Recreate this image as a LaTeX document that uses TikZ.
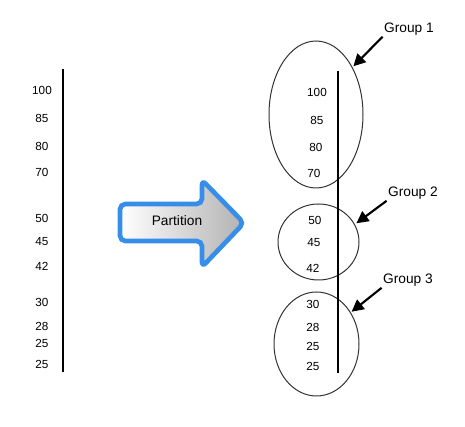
\documentclass[tikz,border=0pt]{standalone}
\usepackage{fontspec}
\setmainfont{Liberation Sans}
\usetikzlibrary{arrows.meta,shapes.geometric}
\definecolor{partblue}{RGB}{55,142,232}
\definecolor{partgray}{RGB}{178,178,178}

\tikzset{
  num/.style={font=\fontsize{8.8}{10}\selectfont, inner sep=1pt},
  grplab/.style={font=\fontsize{10.3}{12}\selectfont, inner sep=1pt},
  grpell/.style={draw=black!80, line width=0.75pt, ellipse, inner sep=0pt, outer sep=0pt},
  grparr/.style={-{Triangle[length=9pt,width=9pt]}, line width=1.6pt},
  vline/.style={line width=1.5pt}
}

\begin{document}
\begin{tikzpicture}[x=0.75pt, y=-0.75pt]
\useasboundingbox (0,0) rectangle (465,427);
% unsorted column
\draw[vline] (63,69) -- (63,372);
\foreach \y/\v [count=\i] in {90/100, 118/85, 146/80, 172/70, 218/50, 242/45, 266/42, 302/30, 326/28, 343/25, 364/25}{
  \node[num] (l\i) at (42,\y) {\v};
}
% partition arrow
\path[draw=partblue, line width=3.5pt, rounded corners=4pt, left color=white, right color=partgray]
  (120,204) -- (202,204) -- (202,180) -- (244,223) -- (202,267) -- (202,241) -- (120,241) -- cycle;
\node[grplab] (part) at (177,221) {Partition};
% partitioned column
\node[grpell, minimum width=94*0.75pt, minimum height=147*0.75pt] (grp1) at (316,114.5) {};
\node[grpell, minimum width=81*0.75pt, minimum height=76*0.75pt] (grp2) at (318.5,242) {};
\node[grpell, minimum width=85*0.75pt, minimum height=104*0.75pt] (grp3) at (316.5,344) {};
\draw[vline] (338,71) -- (338,373);
\foreach \x/\y/\v [count=\i] in {317/92/100, 317/120/85, 316/147/80, 314/173/70, 315/220/50, 314/243/45, 313/268/42, 313/304/30, 313/327/28, 313/346/25, 313/366/25}{
  \node[num] (r\i) at (\x,\y) {\v};
}
% group labels
\node[grplab] (g1) at (409,29) {Group 1};
\node[grplab] (g2) at (413,193) {Group 2};
\node[grplab] (g3) at (408,280) {Group 3};
\draw[grparr] (g1.south west) -- ([shift={(2pt,-1pt)}]grp1.55);
\draw[grparr] (g2.south west) -- ([shift={(2pt,0pt)}]grp2.28);
\draw[grparr] (g3.south west) -- ([shift={(2pt,-1pt)}]grp3.46);
\end{tikzpicture}
\end{document}
